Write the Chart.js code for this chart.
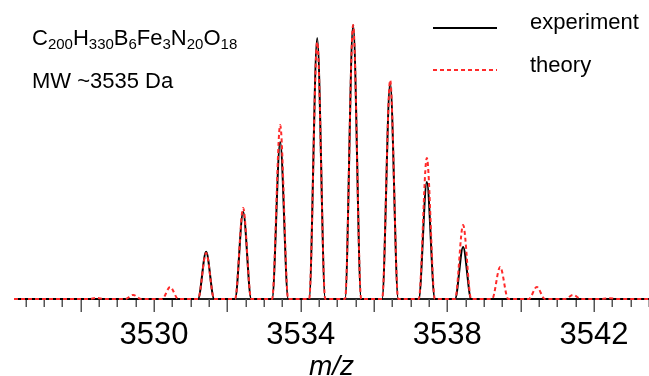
<!DOCTYPE html>
<html><head><meta charset="utf-8">
<script src="https://cdn.jsdelivr.net/npm/chart.js@4/dist/chart.umd.min.js"></script>
<style>html,body{margin:0;padding:0;background:#fff;}#wrap{width:649px;height:376px;position:relative;}</style>
</head><body><div id="wrap"><canvas id="c" width="649" height="376"></canvas></div>
<script>
// Experimental profile (m/z, relative intensity)
const expMz = [3526.18,
  3531.20, 3531.42, 3531.64,
  3532.21, 3532.43, 3532.65,
  3533.22, 3533.44, 3533.66,
  3534.23, 3534.45, 3534.67,
  3535.21, 3535.43, 3535.65,
  3536.22, 3536.44, 3536.66,
  3537.22, 3537.44, 3537.66,
  3538.21, 3538.43, 3538.65,
  3543.5];
const expIntensity = [0,
  0, 17.2, 0,
  0, 31.8, 0,
  0, 57.3, 0,
  0, 95.3, 0,
  0, 100, 0,
  0, 78.8, 0,
  0, 42.7, 0,
  0, 19.0, 0,
  0];
// Theoretical isotope profile
const theoryMz = [3526.18,
  3528.21, 3528.43, 3528.65,
  3529.21, 3529.43, 3529.65,
  3530.22, 3530.44, 3530.66,
  3531.20, 3531.42, 3531.64,
  3532.21, 3532.43, 3532.65,
  3533.22, 3533.44, 3533.66,
  3534.23, 3534.45, 3534.67,
  3535.21, 3535.43, 3535.65,
  3536.22, 3536.44, 3536.66,
  3537.22, 3537.44, 3537.66,
  3538.21, 3538.43, 3538.65,
  3539.22, 3539.44, 3539.66,
  3540.22, 3540.44, 3540.66,
  3541.21, 3541.43, 3541.65,
  3542.21, 3542.43, 3542.65,
  3543.5];
const theoryIntensity = [0,
  0, 0.4, 0,
  0, 1.5, 0,
  0, 4.4, 0,
  0, 16.8, 0,
  0, 33.2, 0,
  0, 63.5, 0,
  0, 93.8, 0,
  0, 100, 0,
  0, 79.9, 0,
  0, 51.5, 0,
  0, 27.0, 0,
  0, 11.7, 0,
  0, 4.4, 0,
  0, 1.5, 0,
  0, 0.3, 0,
  0];
const tickLabels = [3530, 3534, 3538, 3542];
const seriesNames = ['experiment', 'theory'];
const formulaParts = [['C','200'],['H','330'],['B','6'],['Fe','3'],['N','20'],['O','18']];
const mwLabel = 'MW ~3535 Da';
const xTitle = 'm/z';

const FONT = "'Liberation Sans', Arial, sans-serif";
const RED = '#ff2a2a';

function pts(xs, ys){ return xs.map((x,i)=>({x:x, y:ys[i]})); }

const axisDecor = {
  id:'axisDecor',
  beforeDatasetsDraw(chart){
    const s = chart.scales.x, ctx = chart.ctx, y0 = s.top, a = chart.chartArea;
    ctx.save();
    ctx.strokeStyle = '#222'; ctx.lineWidth = 2;
    ctx.beginPath(); ctx.moveTo(a.left, y0); ctx.lineTo(a.right, y0); ctx.stroke();
    ctx.strokeStyle = '#555'; ctx.lineWidth = 1.5;
    for (let k = Math.ceil(s.min*2); k <= Math.floor(s.max*2); k++){
      const x = Math.round(s.getPixelForValue(k/2)) + 0.25;
      const len = (k % 4 === 0) ? 13 : 8;
      ctx.beginPath(); ctx.moveTo(x, y0); ctx.lineTo(x, y0 + len); ctx.stroke();
    }
    ctx.restore();
  }
};

const annotations = {
  id:'annotations',
  afterDraw(chart){
    const ctx = chart.ctx;
    ctx.save();
    ctx.fillStyle = '#000'; ctx.textBaseline = 'alphabetic'; ctx.textAlign = 'left';
    let x = 32;
    formulaParts.forEach(([el, n]) => {
      ctx.font = '22px ' + FONT; ctx.fillText(el, x, 45); x += ctx.measureText(el).width;
      ctx.font = '15px ' + FONT; ctx.fillText(n, x, 48.5); x += ctx.measureText(n).width;
    });
    ctx.font = '22px ' + FONT; ctx.fillText(mwLabel, 32, 88);
    ctx.lineWidth = 2;
    ctx.strokeStyle = '#000'; ctx.setLineDash([]);
    ctx.beginPath(); ctx.moveTo(433, 28); ctx.lineTo(497, 28); ctx.stroke();
    ctx.strokeStyle = RED; ctx.setLineDash([4,3]);
    ctx.beginPath(); ctx.moveTo(433, 70); ctx.lineTo(497, 70); ctx.stroke();
    ctx.setLineDash([]);
    ctx.font = '22px ' + FONT;
    ctx.fillText(seriesNames[0], 530, 29);
    ctx.fillText(seriesNames[1], 530, 72);
    ctx.restore();
  }
};

new Chart(document.getElementById('c'), {
  type: 'line',
  data: {
    datasets: [
      { label: seriesNames[0], data: pts(expMz, expIntensity), borderColor: '#000', borderWidth: 2,
        pointRadius: 0, cubicInterpolationMode: 'monotone', order: 1, clip: false },
      { label: seriesNames[1], data: pts(theoryMz, theoryIntensity), borderColor: RED, borderWidth: 2,
        borderDash: [4,3], pointRadius: 0, cubicInterpolationMode: 'monotone', order: 0, clip: false }
    ]
  },
  plugins: [axisDecor, annotations],
  options: {
    responsive: false, devicePixelRatio: 1, animation: false,
    layout: { padding: { left: 14, right: 0, top: 25, bottom: 0 } },
    plugins: { legend: { display: false }, tooltip: { enabled: false } },
    scales: {
      x: {
        type: 'linear', min: 3526.18, max: 3543.5,
        afterFit: (scale) => { scale.height = 77; scale.paddingLeft = 0; scale.paddingRight = 0; },
        grid: { display: false, drawTicks: false },
        border: { display: false },
        ticks: {
          stepSize: 0.5, autoSkip: false, maxRotation: 0, padding: 21, color: '#000',
          font: { family: FONT, size: 31, lineHeight: 1 },
          callback: (v) => tickLabels.some(t => Math.abs(t - v) < 1e-6) ? String(Math.round(v)) : ''
        },
        title: { display: true, text: xTitle, color: '#000', padding: 0,
          font: { family: FONT, size: 28, style: 'italic', lineHeight: 0.64 } }
      },
      y: { display: false, min: 0, max: 100 }
    }
  }
});
</script></body></html>
